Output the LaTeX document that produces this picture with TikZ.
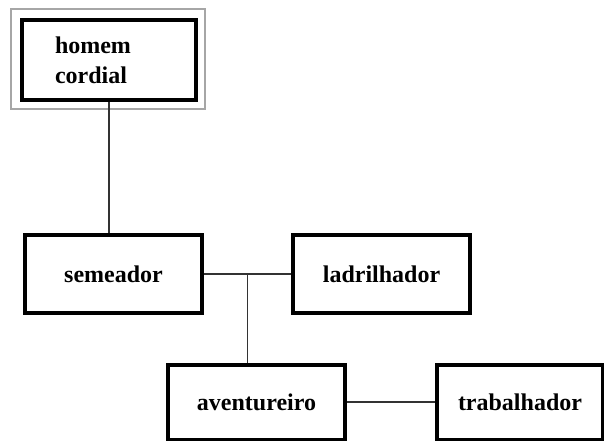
\documentclass[tikz,border=0pt]{standalone}
\usepackage{fontspec}
\setmainfont{Liberation Serif}
\usetikzlibrary{positioning, calc}

\begin{document}
\begin{tikzpicture}[
    x=0.5pt, y=0.5pt,
    box/.style={
        rectangle,
        draw=black,
        line width=2pt,
        fill=white,
        minimum width=88.5pt,
        minimum height=39pt,
        align=center,
        font=\fontsize{12}{15}\selectfont\bfseries
    },
    frame/.style={
        rectangle,
        draw=gray!70,
        line width=0.7pt,
        minimum width=97pt,
        minimum height=50pt
    },
    link/.style={
        draw=black!80,
        line width=0.6pt
    }
]
    \useasboundingbox (0,0) rectangle (604,440);

    % Top type
    \node[frame] (outer) at (108,381) {};
    \node[box, align=left, text width=54pt, inner xsep=16.5pt,
        minimum width=87pt, minimum height=40pt] (homem) at (109,380) {homem\\cordial};

    % Middle row
    \node[box] (semeador) at (113.5,166) {semeador};
    \node[box] (ladrilhador) at (381.5,166) {ladrilhador};

    % Bottom row
    \node[box, minimum height=37.5pt] (aventureiro) at (256.5,38) {aventureiro};
    \node[box, minimum width=83pt, minimum height=37.5pt] (trabalhador) at (520,38) {trabalhador};

    \coordinate (junc) at ($(semeador.east)!0.5!(ladrilhador.west)$);

    \draw[link] (homem.south) -- (homem.south |- semeador.north);
    \draw[link] (semeador) -- (ladrilhador);
    \draw[link] (junc) -- (junc |- aventureiro.north);
    \draw[link] (aventureiro) -- (trabalhador);
\end{tikzpicture}
\end{document}
